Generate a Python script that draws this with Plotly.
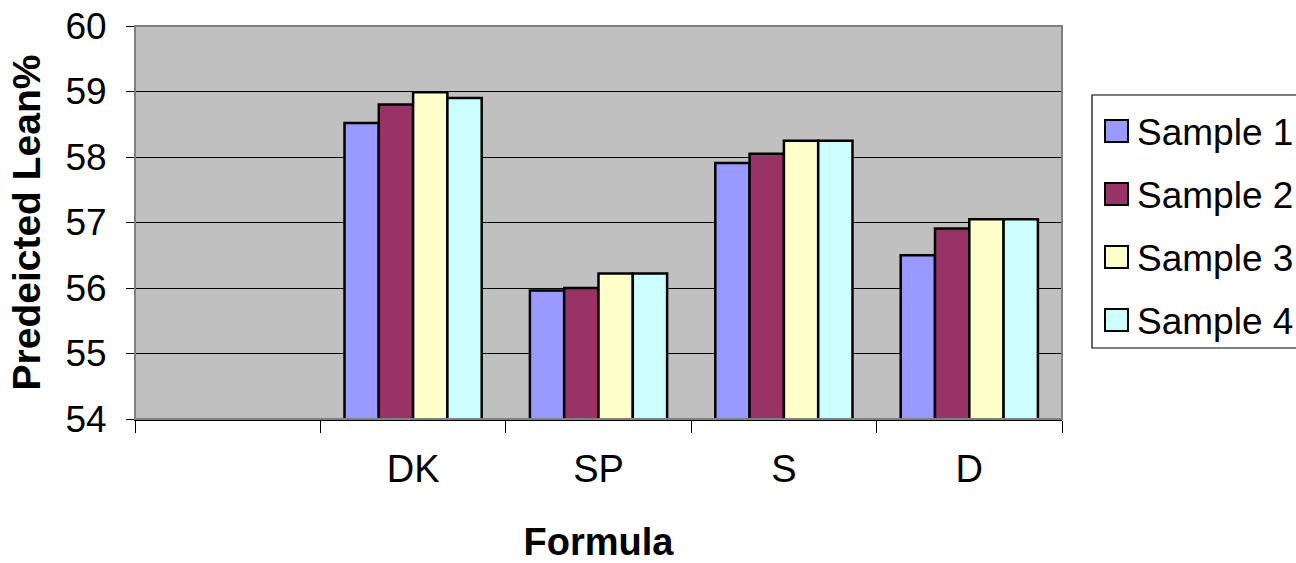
import plotly.graph_objects as go

# Formula categories (the first slot is an empty placeholder category)
formulas = [" ", "DK", "SP", "S", "D"]
series_names = ["Sample 1", "Sample 2", "Sample 3", "Sample 4"]
sample1 = [None, 58.52, 55.96, 57.91, 56.50]
sample2 = [None, 58.80, 56.00, 58.05, 56.91]
sample3 = [None, 58.99, 56.22, 58.25, 57.05]
sample4 = [None, 58.90, 56.22, 58.25, 57.05]
y_ticks = [54, 55, 56, 57, 58, 59, 60]

series = [sample1, sample2, sample3, sample4]
colors = ["#9999FF", "#993366", "#FFFFCC", "#CCFFFF"]

FONT = "Liberation Sans, Arial, sans-serif"
W, H = 1296, 563
ML, MR, MT, MB = 135, 234, 26, 144
PW, PH = W - ML - MR, H - MT - MB


def px_x(x):
    return (x - ML) / PW


def px_y(y):
    return (H - MB - y) / PH


fig = go.Figure()
for name, vals, col in zip(series_names, series, colors):
    fig.add_trace(go.Bar(
        x=formulas, y=vals, name=name,
        marker=dict(color=col, line=dict(color="black", width=2.5)),
        showlegend=False,
    ))

shapes = [
    # plot-area frame
    dict(type="rect", xref="paper", yref="paper", x0=0, x1=1, y0=0, y1=1,
         line=dict(color="#808080", width=2), layer="above"),
    # legend box
    dict(type="rect", xref="paper", yref="paper",
         x0=px_x(1092), x1=px_x(1310), y0=px_y(348), y1=px_y(95),
         line=dict(color="black", width=1.2), fillcolor="white"),
]
annotations = []
row_centers = [131, 194, 257, 320]
for name, col, cy in zip(series_names, colors, row_centers):
    shapes.append(dict(type="rect", xref="paper", yref="paper",
                       x0=px_x(1105), x1=px_x(1128),
                       y0=px_y(cy + 11), y1=px_y(cy - 11),
                       fillcolor=col, line=dict(color="black", width=2)))
    annotations.append(dict(xref="paper", yref="paper", x=px_x(1135), y=px_y(cy + 1),
                            xanchor="left", yanchor="middle", showarrow=False,
                            text=name, font=dict(family=FONT, size=37, color="black")))

fig.update_layout(
    width=W, height=H,
    margin=dict(l=ML, r=MR, t=MT, b=MB, autoexpand=False),
    paper_bgcolor="white",
    plot_bgcolor="#C0C0C0",
    barmode="group",
    bargap=0.26,
    bargroupgap=0,
    font=dict(family=FONT, color="black"),
    shapes=shapes,
    annotations=annotations,
    xaxis=dict(
        automargin=False,
        categoryorder="array", categoryarray=formulas,
        range=[-0.5, len(formulas) - 0.5],
        tickson="boundaries", ticks="outside", ticklen=12, tickwidth=1, tickcolor="black",
        ticklabelstandoff=16,
        showline=True, linecolor="black", linewidth=1.5,
        showgrid=False,
        tickfont=dict(family=FONT, size=38),
        title=dict(text="<b>Formula</b>", font=dict(family=FONT, size=38), standoff=40),
    ),
    yaxis=dict(
        automargin=False,
        range=[54, 60], tickvals=y_ticks,
        ticks="outside", ticklen=8, tickwidth=1, tickcolor="black",
        ticklabelstandoff=12,
        showline=True, linecolor="black", linewidth=1,
        showgrid=True, gridcolor="black", gridwidth=1,
        zeroline=False,
        tickfont=dict(family=FONT, size=37),
        title=dict(text="<b>Predeicted Lean%</b>", font=dict(family=FONT, size=39), standoff=12),
    ),
)

fig.write_html("out.html")
